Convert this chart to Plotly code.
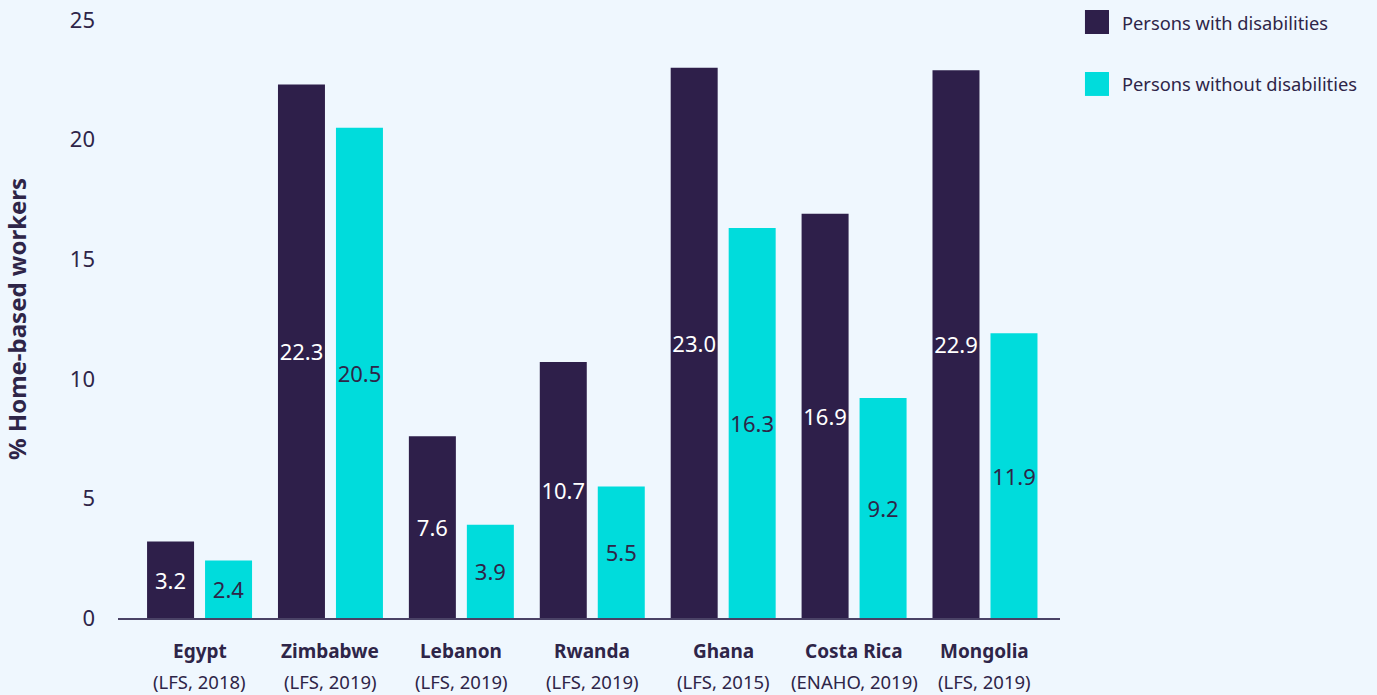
import plotly.graph_objects as go

countries = ["Egypt", "Zimbabwe", "Lebanon", "Rwanda", "Ghana", "Costa Rica", "Mongolia"]
sources = ["(LFS, 2018)", "(LFS, 2019)", "(LFS, 2019)", "(LFS, 2019)", "(LFS, 2015)", "(ENAHO, 2019)", "(LFS, 2019)"]
with_dis = [3.2, 22.3, 7.6, 10.7, 23.0, 16.9, 22.9]
without_dis = [2.4, 20.5, 3.9, 5.5, 16.3, 9.2, 11.9]
series_names = ["Persons with disabilities", "Persons without disabilities"]
y_ticks = [0, 5, 10, 15, 20, 25]

DARK = "#2E1F4A"
CYAN = "#00DCDC"
TEXT = "#2E2548"
BG = "#EFF7FE"
FONT = "Noto Sans"

x_idx = list(range(len(countries)))

fig = go.Figure()
fig.add_trace(go.Bar(
    x=x_idx, y=with_dis, name=series_names[0],
    marker=dict(color=DARK, line=dict(width=0)),
    width=0.359, offset=-0.401,
    texttemplate="%{y:.1f}", textposition="inside", insidetextanchor="middle",
    textangle=0, constraintext="none",
    textfont=dict(family=FONT, size=22, color="white"),
    showlegend=False,
))
fig.add_trace(go.Bar(
    x=x_idx, y=without_dis, name=series_names[1],
    marker=dict(color=CYAN, line=dict(width=0)),
    width=0.359, offset=0.042,
    texttemplate="%{y:.1f}", textposition="inside", insidetextanchor="middle",
    textangle=0, constraintext="none",
    textfont=dict(family=FONT, size=22, color=TEXT),
    showlegend=False,
))

annotations = []
for i, (c, s) in enumerate(zip(countries, sources)):
    annotations.append(dict(x=i, y=0, xref="x", yref="paper", text=f"<b>{c}</b>",
                            showarrow=False, yanchor="middle", yshift=-33,
                            font=dict(family=FONT, size=19, color=TEXT)))
    annotations.append(dict(x=i, y=0, xref="x", yref="paper", text=s,
                            showarrow=False, yanchor="middle", yshift=-63,
                            font=dict(family=FONT, size=18.5, color=TEXT)))

# manual legend
shapes = []
leg_colors = [DARK, CYAN]
leg_y = [(1.0167, 0.9766), (0.913, 0.873)]
for (y1, y0), col, name in zip(leg_y, leg_colors, series_names):
    shapes.append(dict(type="rect", xref="paper", yref="paper",
                       x0=1.0265, x1=1.052, y0=y0, y1=y1,
                       fillcolor=col, line=dict(width=0)))
    annotations.append(dict(x=1.0637, y=(y0 + y1) / 2, xref="paper", yref="paper",
                            text=name, showarrow=False, xanchor="left", yanchor="middle",
                            font=dict(family=FONT, size=18.3, color=TEXT)))

fig.update_layout(
    width=1377, height=695,
    margin=dict(l=118, r=317, t=20, b=77, autoexpand=False),
    paper_bgcolor=BG, plot_bgcolor=BG,
    barmode="overlay",
    font=dict(family=FONT, color=TEXT),
    annotations=annotations,
    shapes=shapes,
    showlegend=False,
    xaxis=dict(range=[-0.623, 6.573], showgrid=False, zeroline=False,
               showline=True, linecolor="#4A4266", linewidth=1.5,
               showticklabels=False, ticks="", automargin=False),
    yaxis=dict(range=[0, 25], tickvals=y_ticks, showgrid=False, zeroline=False,
               showline=False, ticks="", ticklabelstandoff=22, automargin=False,
               tickfont=dict(family=FONT, size=22, color=TEXT),
               title=dict(text="<b>% Home-based workers</b>", standoff=37,
                          font=dict(family=FONT, size=24, color=TEXT))),
)

fig.write_html(
    "out.html",
    config={"displayModeBar": False},
    post_script="document.body.style.margin='0';document.body.style.background='" + BG + "';",
)
